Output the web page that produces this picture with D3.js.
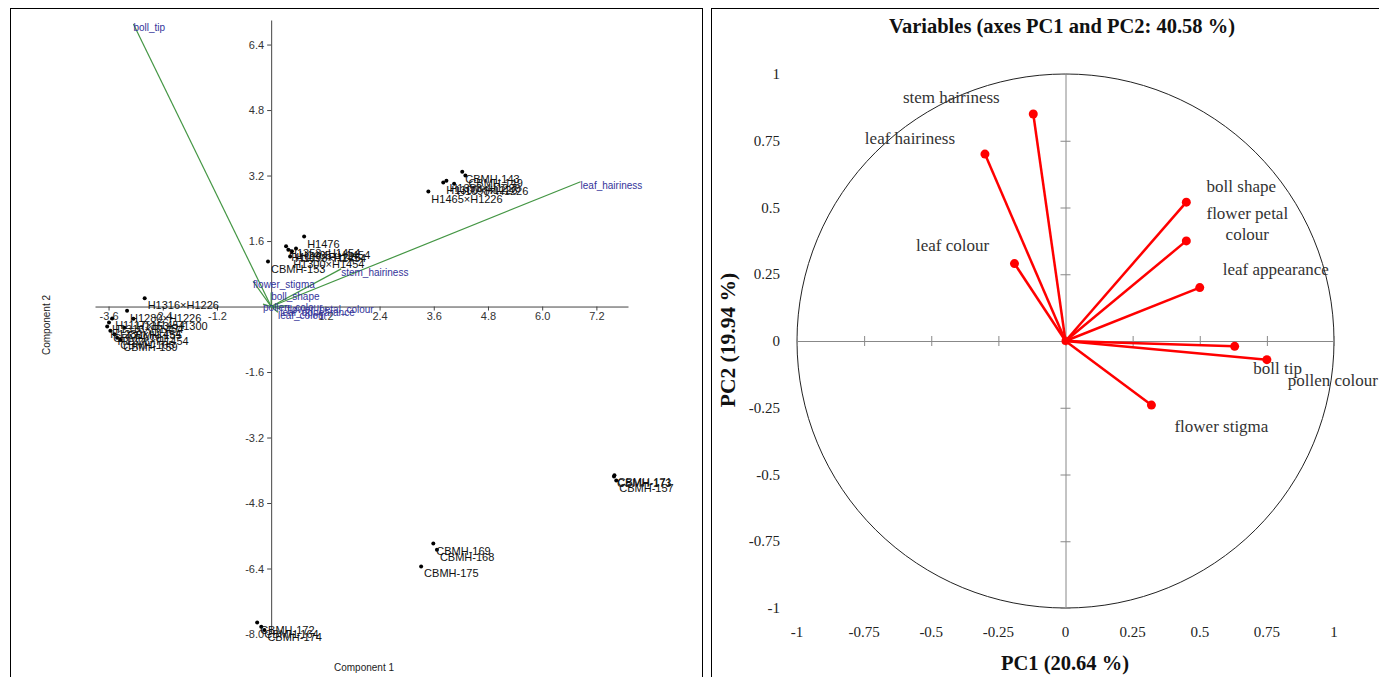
<!DOCTYPE html>
<html>
<head>
<meta charset="utf-8">
<script src="https://cdn.jsdelivr.net/npm/d3@7"></script>
<style>
  body { margin: 0; background: #fff; }
  svg { display: block; }
</style>
</head>
<body>
<svg id="chart" width="1379" height="677"></svg>
<script>
// ---- left panel: biplot (PAST style) ----
var genotypes = [
  "CBMH-143", "CBMH-149", "H1353×H1226", "H1300×H1226", "H1098×H1226", "H1465×H1226",
  "H1476", "H1353×H1454", "H1117×H1226", "H1098×H1454", "H1465×H1454", "CBMH-153", "H1300×H1454",
  "H1316×H1226", "H1280×H1226", "H1117×H1454", "H1316×H1454", "H1280×H1454", "CBMH-161",
  "H1226×H1454", "CBMH-165", "CBMH-159", "H1353×H1300", "CBMH-155",
  "CBMH-169", "CBMH-168", "CBMH-175",
  "CBMH-173", "CBMH-171", "CBMH-157",
  "CBMH-172", "CBMH-164", "CBMH-174"
];
var pc1Scores = [
  4.23, 4.30, 3.88, 3.81, 4.05, 3.48,
  0.73, 0.33, 0.38, 0.46, 0.55, -0.07, 0.42,
  -2.80, -3.19, -3.52, -3.59, -3.63, -3.56,
  -3.47, -3.41, -3.34, -3.05, -3.25,
  3.59, 3.67, 3.32,
  7.59, 7.60, 7.64,
  -0.31, -0.22, -0.15
];
var pc2Scores = [
  3.29, 3.20, 3.07, 3.03, 3.00, 2.81,
  1.71, 1.47, 1.39, 1.35, 1.42, 1.10, 1.22,
  0.20, -0.10, -0.29, -0.39, -0.49, -0.59,
  -0.68, -0.76, -0.81, -0.30, -0.52,
  -5.79, -5.94, -6.35,
  -4.15, -4.12, -4.25,
  -7.72, -7.82, -7.90
];

var biplotVars = ["boll_tip", "leaf_hairiness", "stem_hairiness", "flower_stigma", "boll_shape",
                  "pollen_colour", "leaf_appearance", "leaf_colour", "flower_petal_colour"];
var biplotX = [-3.05, 6.85, 1.55, -0.40, 0.00, -0.18, 0.20, 0.15, 0.35];
var biplotY = [6.90, 3.05, 0.92, 0.62, 0.34, 0.06, -0.06, -0.14, 0.02];

var leftXTicks = [-3.6, -2.4, -1.2, 1.2, 2.4, 3.6, 4.8, 6.0, 7.2];
var leftYTicks = [6.4, 4.8, 3.2, 1.6, -1.6, -3.2, -4.8, -6.4, -8.0];

// ---- right panel: correlation circle ----
var circleVars = ["stem hairiness", "leaf hairiness", "leaf colour", "boll shape",
                  "flower petal colour", "leaf appearance", "boll tip", "pollen colour", "flower stigma"];
var pc1Cor = [-0.12, -0.30, -0.19, 0.45, 0.45, 0.50, 0.63, 0.75, 0.32];
var pc2Cor = [0.85, 0.70, 0.29, 0.52, 0.375, 0.20, -0.02, -0.07, -0.24];
var circleTicks = [-1, -0.75, -0.5, -0.25, 0, 0.25, 0.5, 0.75, 1];

// label offsets in pixels for the circle labels (centre of text relative to point)
var labelOffsets = [[-82, -17], [-75, -16], [-62, -18], [55, -16], [61, -28],
                    [76, -18], [43, 22], [66, 21], [70, 21]];

var svg = d3.select("#chart");

// panel frames
svg.append("rect").attr("x", 10.5).attr("y", 8.5).attr("width", 692).attr("height", 680)
   .attr("fill", "none").attr("stroke", "#000").attr("stroke-width", 1);
svg.append("rect").attr("x", 711.5).attr("y", 8.5).attr("width", 680).attr("height", 680)
   .attr("fill", "none").attr("stroke", "#000").attr("stroke-width", 1);

// ===== left biplot =====
var x1 = d3.scaleLinear().domain([-3.9, 7.9]).range([95, 628]);
var y1 = d3.scaleLinear().domain([-8.0, 7.0]).range([634, 20]);

var left = svg.append("g").attr("font-family", "Liberation Sans, Arial, sans-serif");

var xAxis = left.append("g")
  .attr("transform", "translate(0," + y1(0) + ")")
  .call(d3.axisBottom(x1).tickValues(leftXTicks).tickSize(4).tickSizeOuter(0)
        .tickFormat(function (d) { return d.toFixed(1); }));
var yAxis = left.append("g")
  .attr("transform", "translate(" + x1(0) + ",0)")
  .call(d3.axisLeft(y1).tickValues(leftYTicks).tickSize(4).tickSizeOuter(0)
        .tickFormat(function (d) { return d.toFixed(1); }));
[xAxis, yAxis].forEach(function (a) {
  a.select(".domain").attr("stroke", "#444");
  a.selectAll(".tick line").attr("stroke", "#444");
  a.selectAll(".tick text").attr("fill", "#333").attr("font-size", 11).attr("font-family", "Liberation Sans, Arial, sans-serif");
});
xAxis.selectAll(".tick text").attr("dy", "0.6em");

// variable vectors
left.selectAll("line.vec")
  .data(biplotVars)
  .enter()
  .append("line")
  .attr("class", "vec")
  .attr("x1", x1(0)).attr("y1", y1(0))
  .attr("x2", function (d, i) { return x1(biplotX[i]); })
  .attr("y2", function (d, i) { return y1(biplotY[i]); })
  .attr("stroke", "#449644")
  .attr("stroke-width", 1.2);

left.selectAll("text.vec")
  .data(biplotVars)
  .enter()
  .append("text")
  .attr("x", function (d, i) { return x1(biplotX[i]); })
  .attr("y", function (d, i) { return y1(biplotY[i]) + 7; })
  .attr("font-size", 10)
  .attr("fill", "#34349a")
  .text(function (d) { return d; });

// genotype points
left.selectAll("circle.pt")
  .data(genotypes)
  .enter()
  .append("circle")
  .attr("cx", function (d, i) { return x1(pc1Scores[i]); })
  .attr("cy", function (d, i) { return y1(pc2Scores[i]); })
  .attr("r", 2)
  .attr("fill", "#000");

left.selectAll("text.pt")
  .data(genotypes)
  .enter()
  .append("text")
  .attr("x", function (d, i) { return x1(pc1Scores[i]) + 3; })
  .attr("y", function (d, i) { return y1(pc2Scores[i]) + 11; })
  .attr("font-size", 11)
  .attr("fill", "#111")
  .text(function (d) { return d; });

left.append("text").attr("x", 364).attr("y", 671).attr("text-anchor", "middle")
  .attr("font-size", 10).attr("fill", "#222").text("Component 1");
left.append("text").attr("transform", "translate(50,325) rotate(-90)").attr("text-anchor", "middle")
  .attr("font-size", 10).attr("fill", "#222").text("Component 2");

// ===== right correlation circle =====
var x2 = d3.scaleLinear().domain([-1, 1]).range([797, 1334]);
var y2 = d3.scaleLinear().domain([-1, 1]).range([608, 74]);

var right = svg.append("g").attr("font-family", "Liberation Serif, Times New Roman, serif");

right.append("text").attr("x", 1062).attr("y", 33).attr("text-anchor", "middle")
  .attr("font-size", 20.5).attr("font-weight", "bold").attr("fill", "#111")
  .text("Variables (axes PC1 and PC2: 40.58 %)");

right.append("ellipse")
  .attr("cx", x2(0)).attr("cy", y2(0))
  .attr("rx", x2(1) - x2(0)).attr("ry", y2(0) - y2(1))
  .attr("fill", "none").attr("stroke", "#222").attr("stroke-width", 1);

// axes through origin with crossing ticks
var hAxis = right.append("g").attr("transform", "translate(0," + y2(0) + ")")
  .call(d3.axisBottom(x2).tickValues(circleTicks).tickSize(5).tickSizeOuter(0).tickFormat(""));
var vAxis = right.append("g").attr("transform", "translate(" + x2(0) + ",0)")
  .call(d3.axisLeft(y2).tickValues(circleTicks).tickSize(5).tickSizeOuter(0).tickFormat(""));
hAxis.selectAll(".tick line").attr("y1", -5).attr("y2", 5);
vAxis.selectAll(".tick line").attr("x1", -5).attr("x2", 5);
[hAxis, vAxis].forEach(function (a) {
  a.select(".domain").attr("stroke", "#888");
  a.selectAll(".tick line").attr("stroke", "#888");
});

// tick labels along the outer edges
right.selectAll("text.xt")
  .data(circleTicks)
  .enter()
  .append("text")
  .attr("x", function (d) { return x2(d); })
  .attr("y", 637)
  .attr("text-anchor", "middle")
  .attr("font-size", 15)
  .attr("fill", "#222")
  .text(function (d) { return String(d); });

right.selectAll("text.yt")
  .data(circleTicks)
  .enter()
  .append("text")
  .attr("x", 780)
  .attr("y", function (d) { return y2(d) + 5; })
  .attr("text-anchor", "end")
  .attr("font-size", 15)
  .attr("fill", "#222")
  .text(function (d) { return String(d); });

right.append("text").attr("x", 1065).attr("y", 670).attr("text-anchor", "middle")
  .attr("font-size", 20.5).attr("font-weight", "bold").attr("fill", "#111")
  .text("PC1 (20.64 %)");
right.append("text").attr("transform", "translate(735,340) rotate(-90)").attr("text-anchor", "middle")
  .attr("font-size", 21.5).attr("font-weight", "bold").attr("fill", "#111")
  .text("PC2 (19.94 %)");

// red vectors and points
right.selectAll("line.cv")
  .data(circleVars)
  .enter()
  .append("line")
  .attr("x1", x2(0)).attr("y1", y2(0))
  .attr("x2", function (d, i) { return x2(pc1Cor[i]); })
  .attr("y2", function (d, i) { return y2(pc2Cor[i]); })
  .attr("stroke", "#ff0000")
  .attr("stroke-width", 2.5);

right.selectAll("circle.cv")
  .data(circleVars)
  .enter()
  .append("circle")
  .attr("cx", function (d, i) { return x2(pc1Cor[i]); })
  .attr("cy", function (d, i) { return y2(pc2Cor[i]); })
  .attr("r", 4.5)
  .attr("fill", "#ff0000");

right.append("circle").attr("cx", x2(0)).attr("cy", y2(0)).attr("r", 4).attr("fill", "#ff0000");

right.selectAll("text.cv")
  .data(circleVars)
  .enter()
  .append("text")
  .attr("x", function (d, i) { return x2(pc1Cor[i]) + labelOffsets[i][0]; })
  .attr("y", function (d, i) { return y2(pc2Cor[i]) + labelOffsets[i][1]; })
  .attr("text-anchor", "middle")
  .attr("dominant-baseline", "central")
  .attr("font-size", 17)
  .attr("fill", "#333")
  .each(function (d) {
    var t = d3.select(this);
    if (d === "flower petal colour") {
      t.append("tspan").attr("x", t.attr("x")).text("flower petal");
      t.append("tspan").attr("x", t.attr("x")).attr("dy", 21).text("colour");
    } else {
      t.text(d);
    }
  });
</script>
</body>
</html>
